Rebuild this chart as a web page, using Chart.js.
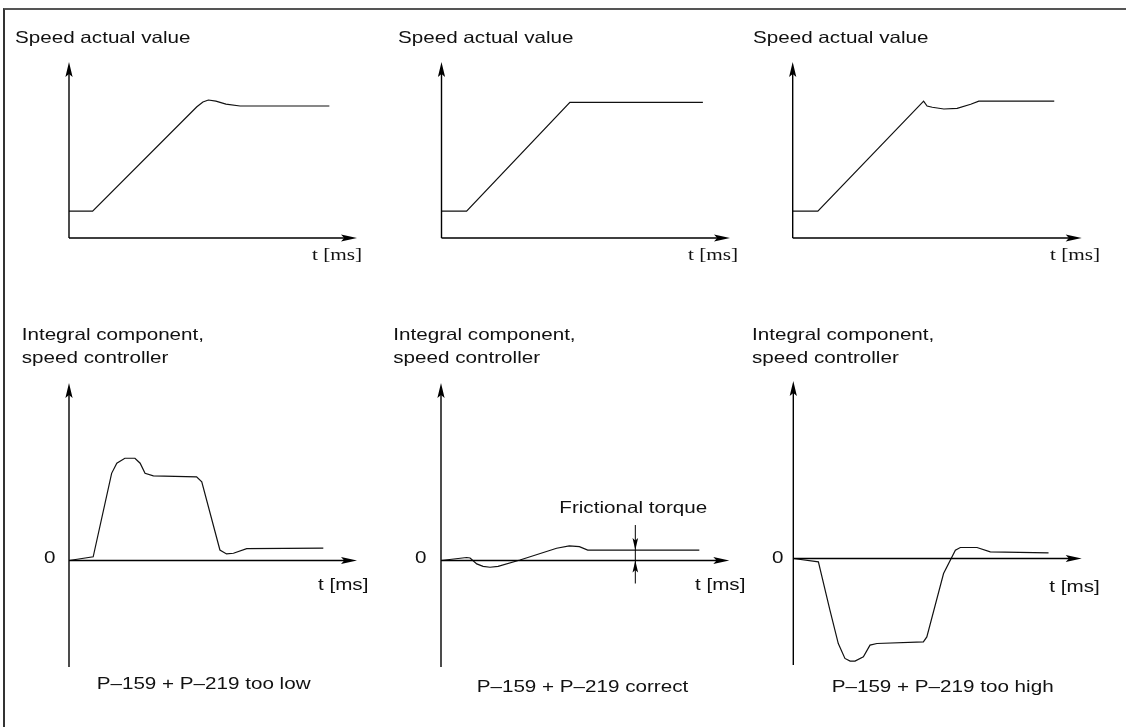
<!DOCTYPE html>
<html>
<head>
<meta charset="utf-8">
<title>Speed controller integral component</title>
<script src="https://cdn.jsdelivr.net/npm/chart.js@4.4.1/dist/chart.umd.min.js"></script>
<style>
  html, body { margin: 0; padding: 0; background: #fff; }
  #page { position: relative; width: 1126px; height: 727px; overflow: hidden; background: #fff; }
  #frame { position: absolute; left: 3px; top: 8px; width: 1200px; height: 800px;
           border-top: 2px solid #555; border-left: 2px solid #333; }
  #page canvas { position: absolute; left: 0; top: 0; }
</style>
</head>
<body>
<div id="page">
  <div id="frame"></div>
  <canvas id="tl" width="1126" height="727"></canvas>
  <canvas id="tm" width="1126" height="727"></canvas>
  <canvas id="tr" width="1126" height="727"></canvas>
  <canvas id="bl" width="1126" height="727"></canvas>
  <canvas id="bm" width="1126" height="727"></canvas>
  <canvas id="br" width="1126" height="727"></canvas>
</div>
<script>
// --- data (t in ms along the axis 0..100, values in % of the drawn axis) ---
const lowSpeedT  = [0, 8.2, 44.4, 46.5, 48.4, 51.0, 54.5, 59.4, 90.4];
const lowSpeedV  = [15.3, 15.3, 74.6, 77.3, 78.4, 77.8, 76.1, 75.0, 75.0];
const okSpeedT   = [0, 8.7, 44.5, 90.6];
const okSpeedV   = [15.3, 15.3, 77.1, 77.1];
const highSpeedT = [0, 8.7, 45.3, 46.5, 48.3, 52.3, 56.9, 61.6, 64.4, 90.5];
const highSpeedV = [15.3, 15.3, 77.8, 75.0, 74.3, 73.3, 73.7, 76.0, 77.8, 77.8];

const lowIntT  = [0, 8.4, 14.8, 16.6, 19.4, 22.9, 24.7, 26.4, 29.3, 44.3, 46.1, 52.4, 54.7, 57.1, 61.7, 88.3];
const lowIntV  = [0, 2.1, 49.1, 54.8, 57.6, 57.6, 54.8, 49.1, 47.7, 47.1, 44.3, 5.9, 3.7, 4.1, 6.7, 7.0];
const okIntT   = [0, 8.9, 10.1, 12.4, 14.6, 17.0, 19.8, 27.4, 40.1, 44.5, 48.0, 50.9, 89.6];
const okIntV   = [0, 1.7, 1.4, -1.9, -3.3, -3.8, -3.3, 0.3, 6.9, 8.2, 7.8, 5.9, 5.9];
const highIntT = [0, 8.7, 12.7, 15.6, 17.9, 19.7, 21.4, 24.3, 26.6, 29.0, 45.1, 46.3, 52.1, 56.2, 57.9, 63.7, 68.3, 88.5];
const highIntV = [0, -1.9, -29.1, -47.9, -56.3, -57.8, -57.8, -55.4, -48.8, -47.9, -47.0, -44.2, -8.5, 4.7, 6.2, 6.2, 3.7, 3.2];

const frictionT = 67.4;
const frictionTorque = 5.9;

const speedTitle = 'Speed actual value';
const intTitle = ['Integral component,', 'speed controller'];
const timeLabel = 't [ms]';
const zeroLabel = '0';
const captions = ['P\u2013159 + P\u2013219 too low', 'P\u2013159 + P\u2013219 correct', 'P\u2013159 + P\u2013219 too high'];
const frictionLabel = 'Frictional torque';

// --- drawing helpers ---
const SANS = '16.5px "Liberation Sans", Arial, sans-serif';
const SERIF = '17px "Liberation Serif", "Times New Roman", serif';
const STRETCH = 1.25;

function arrowHead(ctx, x, y, dir, len, half) {
	// dir: 'up' | 'down' | 'right'
	ctx.beginPath();
	if (dir === 'right') {
		ctx.moveTo(x, y);
		ctx.lineTo(x - len, y - half);
		ctx.lineTo(x - len * 0.8, y);
		ctx.lineTo(x - len, y + half);
	} else {
		const s = dir === 'up' ? 1 : -1;
		ctx.moveTo(x, y);
		ctx.lineTo(x - half, y + s * len);
		ctx.lineTo(x, y + s * len * 0.8);
		ctx.lineTo(x + half, y + s * len);
	}
	ctx.closePath();
	ctx.fill();
}

function text(ctx, str, x, y, font) {
	ctx.save();
	ctx.translate(x, y);
	ctx.scale(STRETCH, 1);
	ctx.font = font;
	ctx.textBaseline = 'alphabetic';
	ctx.fillText(str, 0, 0);
	ctx.restore();
}

const diagramPlugin = {
	id: 'diagram',
	afterDatasetsDraw(chart, args, opts) {
		const ctx = chart.ctx;
		const xs = chart.scales.x, ys = chart.scales.y;
		const ox = xs.getPixelForValue(0), oy = ys.getPixelForValue(0);
		const top = ys.getPixelForValue(ys.max), bottom = ys.getPixelForValue(ys.min);
		const right = xs.getPixelForValue(xs.max);
		ctx.save();
		ctx.strokeStyle = '#000';
		ctx.fillStyle = '#000';
		ctx.lineWidth = 1.4;
		// axes
		ctx.beginPath();
		ctx.moveTo(ox, bottom);
		ctx.lineTo(ox, top + 10);
		ctx.moveTo(ox, oy);
		ctx.lineTo(right - 10, oy);
		ctx.stroke();
		arrowHead(ctx, ox, top, 'up', 15, 3.6);
		arrowHead(ctx, right, oy, 'right', 16, 3.6);

		// frictional torque marker
		if (opts.friction) {
			const fx = xs.getPixelForValue(frictionT);
			const fy = ys.getPixelForValue(frictionTorque);
			ctx.lineWidth = 1;
			ctx.beginPath();
			ctx.moveTo(fx, fy - 25);
			ctx.lineTo(fx, oy + 23);
			ctx.stroke();
			arrowHead(ctx, fx, fy, 'down', 12, 2.8);
			arrowHead(ctx, fx, oy, 'up', 12, 2.8);
		}

		ctx.fillStyle = '#111';
		(opts.labels || []).forEach(l => text(ctx, l.text, l.x, l.y, l.font));
		ctx.restore();
	}
};

function draw_panel(id, times, values, yMin, box, labels, friction) {
	const ctx = document.getElementById(id).getContext('2d');
	const pts = times.map((t, i) => ({ x: t, y: values[i] }));
	return new Chart(ctx, {
		type: 'line',
		data: {
			datasets: [{
				data: pts,
				borderColor: '#111',
				borderWidth: 1.2,
				pointRadius: 0,
				fill: false,
				tension: 0
			}]
		},
		options: {
			responsive: false,
			animation: false,
			devicePixelRatio: 1,
			events: [],
			layout: {
				padding: { left: box.x0, right: 1126 - box.x1, top: box.yt, bottom: 727 - box.yb }
			},
			scales: {
				x: { type: 'linear', min: 0, max: 100, display: false },
				y: { type: 'linear', min: yMin, max: 100, display: false }
			},
			plugins: {
				legend: { display: false },
				tooltip: { enabled: false },
				diagram: { labels: labels, friction: !!friction }
			}
		},
		plugins: [diagramPlugin]
	});
}

draw_panel('tl', lowSpeedT, lowSpeedV, 0, { x0: 69, x1: 357, yt: 62, yb: 238 }, [
	{ text: speedTitle, x: 15, y: 42.5, font: SANS },
	{ text: timeLabel, x: 312, y: 260, font: SERIF }
]);
draw_panel('tm', okSpeedT, okSpeedV, 0, { x0: 441.5, x1: 730, yt: 62, yb: 238 }, [
	{ text: speedTitle, x: 398, y: 42.5, font: SANS },
	{ text: timeLabel, x: 688, y: 260, font: SERIF }
]);
draw_panel('tr', highSpeedT, highSpeedV, 0, { x0: 792.7, x1: 1081.7, yt: 62, yb: 238 }, [
	{ text: speedTitle, x: 753, y: 42.5, font: SANS },
	{ text: timeLabel, x: 1050, y: 260, font: SERIF }
]);

draw_panel('bl', lowIntT, lowIntV, -60, { x0: 69, x1: 357, yt: 383, yb: 667 }, [
	{ text: intTitle[0], x: 21.7, y: 340, font: SANS },
	{ text: intTitle[1], x: 21.7, y: 362.7, font: SANS },
	{ text: zeroLabel, x: 44, y: 563, font: SANS },
	{ text: timeLabel, x: 318, y: 590, font: SANS },
	{ text: captions[0], x: 96.7, y: 689, font: SANS }
]);
draw_panel('bm', okIntT, okIntV, -60, { x0: 441, x1: 729.3, yt: 383, yb: 667 }, [
	{ text: intTitle[0], x: 393.3, y: 340, font: SANS },
	{ text: intTitle[1], x: 393.3, y: 362.7, font: SANS },
	{ text: zeroLabel, x: 415, y: 563, font: SANS },
	{ text: timeLabel, x: 695, y: 590, font: SANS },
	{ text: captions[1], x: 476.7, y: 692, font: SANS },
	{ text: frictionLabel, x: 559.3, y: 512.7, font: SANS }
], true);
draw_panel('br', highIntT, highIntV, -60, { x0: 793.3, x1: 1081.7, yt: 381, yb: 665 }, [
	{ text: intTitle[0], x: 752, y: 340, font: SANS },
	{ text: intTitle[1], x: 752, y: 362.7, font: SANS },
	{ text: zeroLabel, x: 772, y: 563, font: SANS },
	{ text: timeLabel, x: 1049.3, y: 591.7, font: SANS },
	{ text: captions[2], x: 831.7, y: 692, font: SANS }
]);
</script>
</body>
</html>
